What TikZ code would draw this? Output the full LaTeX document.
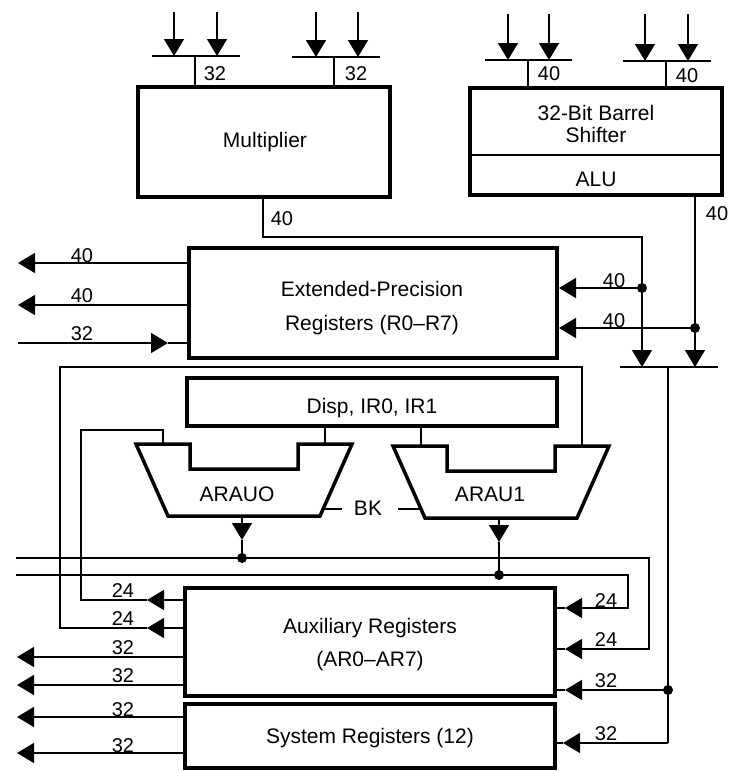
\documentclass[tikz,border=0pt]{standalone}
\usepackage{fontspec}
\setmainfont{Liberation Sans}
\usetikzlibrary{arrows.meta}
\begin{document}
\begin{tikzpicture}[x=1pt,y=-1pt,
  wire/.style={line width=1.4pt},
  box/.style={draw, line width=4pt, inner sep=0pt},
  arr/.style={wire, -{Triangle[length=17pt,width=20pt]}},
  lbl/.style={inner sep=0pt, anchor=base, font=\fontsize{20}{24}\selectfont},
  txt/.style={inner sep=0pt, anchor=base, font=\fontsize{21}{25}\selectfont},
  jdot/.style={circle, fill, inner sep=0pt, minimum size=10pt},
  alushape/.style={draw, line width=3.5pt, line join=miter},
]
\useasboundingbox (0,0) rectangle (732,771);

% ---------------- boxes
\node[box, minimum width=252pt, minimum height=110pt] (mult) at (264,142) {};
\node[txt] (multT) at (265,147.5) {Multiplier};

\node[box, minimum width=252pt, minimum height=107pt] (shf) at (596,141.5) {};
\coordinate (divL) at (470,155); \coordinate (divR) at (722,155);
\draw[line width=2pt] (divL) -- (divR);
\node[txt] (shfT1) at (596,120.5) {32-Bit Barrel};
\node[txt] (shfT2) at (596,142.5) {Shifter};
\node[txt] (aluT) at (596,186) {ALU};

\node[box, minimum width=368pt, minimum height=110pt] (ext) at (373,303) {};
\node[txt] (extT1) at (372,296.5) {Extended-Precision};
\node[txt] (extT2) at (372,330.5) {Registers (R0--R7)};

\node[box, minimum width=370pt, minimum height=48pt] (disp) at (372,402) {};
\node[txt] (dispT) at (372,413) {Disp, IR0, IR1};

\node[box, minimum width=370pt, minimum height=108pt] (aux) at (370,642) {};
\node[txt] (auxT1) at (370,633) {Auxiliary Registers};
\node[txt] (auxT2) at (370,666) {(AR0--AR7)};

\node[box, minimum width=370pt, minimum height=64pt] (sys) at (370,736) {};
\node[txt] (sysT) at (370,743) {System Registers (12)};

% ---------------- ARAU units
\draw[alushape] (136,444) -- (190,444) -- (190,469) -- (298,469) -- (298,444)
  -- (352,444) -- (320,516) -- (168,516) -- cycle;
\node[txt] (arau0) at (237,501) {ARAUO};
\draw[alushape] (393,446) -- (447,446) -- (447,471) -- (555,471) -- (555,446)
  -- (609,446) -- (577,518) -- (425,518) -- cycle;
\node[txt] (arau1) at (490,501) {ARAU1};

\coordinate (a0tl) at (163,444); \coordinate (a0tr) at (325,444);
\coordinate (a0out) at (242,516); \coordinate (a0bk) at (323,509);
\coordinate (a1tl) at (421,446); \coordinate (a1tr) at (582,446);
\coordinate (a1out) at (499,518); \coordinate (a1bk) at (421,509);

\draw[wire] (disp.south -| a0tr) -- (a0tr);
\draw[wire] (disp.south -| a1tl) -- (a1tl);

% BK
\coordinate (bk0) at (342,509); \coordinate (bk1) at (398,509);
\draw[wire] (a0bk) -- (bk0);
\draw[wire] (bk1) -- (a1bk);
\node[txt] (bk) at (368,515) {BK};

% ---------------- top input buses
% multiplier bus 1
\coordinate (mbL) at (152,56); \coordinate (mbR) at (240,56);
\coordinate (mbs1) at (174,12); \coordinate (mbs2) at (217,12);
\coordinate (mbt) at (195,56);
\draw[wire] (mbL) -- (mbR);
\draw[arr] (mbs1) -- (mbs1 |- mbL);
\draw[arr] (mbs2) -- (mbs2 |- mbL);
\draw[wire] (mbt) -- (mbt |- mult.north);
\node[lbl] (lm1) at (215,80) {32};
% multiplier bus 2
\coordinate (mcL) at (292,57); \coordinate (mcR) at (380,57);
\coordinate (mcs1) at (316,12); \coordinate (mcs2) at (358,12);
\coordinate (mct) at (334,57);
\draw[wire] (mcL) -- (mcR);
\draw[arr] (mcs1) -- (mcs1 |- mcL);
\draw[arr] (mcs2) -- (mcs2 |- mcL);
\draw[wire] (mct) -- (mct |- mult.north);
\node[lbl] (lm2) at (356,80) {32};
% shifter bus 1
\coordinate (sbL) at (485,60); \coordinate (sbR) at (572,60);
\coordinate (sbs1) at (508,14); \coordinate (sbs2) at (549,14);
\coordinate (sbt) at (528,60);
\draw[wire] (sbL) -- (sbR);
\draw[arr] (sbs1) -- (sbs1 |- sbL);
\draw[arr] (sbs2) -- (sbs2 |- sbL);
\draw[wire] (sbt) -- (sbt |- shf.north);
\node[lbl] (ls1) at (549,80) {40};
% shifter bus 2
\coordinate (scL) at (623,61); \coordinate (scR) at (711,61);
\coordinate (scs1) at (645,14); \coordinate (scs2) at (688,14);
\coordinate (sct) at (666,61);
\draw[wire] (scL) -- (scR);
\draw[arr] (scs1) -- (scs1 |- scL);
\draw[arr] (scs2) -- (scs2 |- scL);
\draw[wire] (sct) -- (sct |- shf.north);
\node[lbl] (ls2) at (687,82) {40};

% ---------------- multiplier / ALU outputs
\coordinate (mox) at (263,237); \coordinate (mj) at (642,237);
\coordinate (bbL) at (620,367); \coordinate (bbR) at (718,367);
\node[jdot] (d1) at (642,288) {};
\node[jdot] (d2) at (695,328) {};
\draw[arr] (mult.south -| mox) -- (mox) -- (mj) -- (mj |- bbL);
\node[lbl] (lmo) at (282,225) {40};
\draw[arr] (shf.south -| d2) -- (d2 |- bbL);
\node[lbl] (lao) at (717,220) {40};
\draw[wire] (bbL) -- (bbR);
\draw[arr] (d1.center) -- (ext.east |- d1);
\draw[arr] (d2.center) -- (ext.east |- d2);
\node[lbl] (le1) at (614,287) {40};
\node[lbl] (le2) at (614,327) {40};

% ---------------- ext left side
\coordinate (eo1) at (18,263); \coordinate (eo2) at (18,305);
\coordinate (ei) at (18,343); \coordinate (eitip) at (168,343);
\draw[arr] (ext.west |- eo1) -- (eo1);
\draw[arr] (ext.west |- eo2) -- (eo2);
\draw[arr] (ei) -- (eitip);
\draw[wire] (eitip) -- (ext.west |- eitip);
\node[lbl] (lx1) at (82,262) {40};
\node[lbl] (lx2) at (82,302) {40};
\node[lbl] (lx3) at (82,340) {32};

% ---------------- bus to aux / sys (right)
\coordinate (bt) at (668,367); \coordinate (sysc) at (668,743);
\coordinate (sysTip) at (563,743);
\node[jdot] (d3) at (668,690) {};
\coordinate (auxTip3) at (565,690);
\draw[wire] (bt) -- (sysc);
\draw[arr] (sysc) -- (sysTip);
\draw[wire] (sysTip) -- (sys.east |- sysTip);
\draw[arr] (d3.center) -- (auxTip3);
\draw[wire] (auxTip3) -- (aux.east |- auxTip3);
\node[lbl] (lr3) at (606,687) {32};
\node[lbl] (lr4) at (606,740) {32};

% ---------------- ARAU outputs and buses
\node[jdot] (dA0) at (242,558) {};
\node[jdot] (dA1) at (499,575) {};
\coordinate (a0tip) at (242,540); \coordinate (a1tip) at (499,542);
\draw[arr] (a0out) -- (a0tip);
\draw[wire] (a0tip) -- (dA0.center);
\draw[arr] (a1out) -- (a1tip);
\draw[wire] (a1tip) -- (dA1.center);

\coordinate (l1L) at (16,558); \coordinate (l1R) at (649,558);
\coordinate (l1D) at (649,649); \coordinate (auxTip2) at (565,649);
\draw[arr] (l1L) -- (l1R) -- (l1D) -- (auxTip2);
\draw[wire] (auxTip2) -- (aux.east |- auxTip2);
\coordinate (l2L) at (16,575); \coordinate (l2R) at (628,575);
\coordinate (l2D) at (628,608); \coordinate (auxTip1) at (565,608);
\draw[arr] (l2L) -- (l2R) -- (l2D) -- (auxTip1);
\draw[wire] (auxTip1) -- (aux.east |- auxTip1);
\node[lbl] (lr1) at (606,607) {24};
\node[lbl] (lr2) at (606,646) {24};

% ---------------- aux feedback loops (left)
\coordinate (lAtip) at (147,628); \coordinate (lA1) at (60,628);
\coordinate (lA2) at (60,367); \coordinate (lA3) at (582,367);
\draw[arr] (aux.west |- lAtip) -- (lAtip);
\draw[wire] (lAtip) -- (lA1) -- (lA2) -- (lA3) -- (a1tr);
\coordinate (lBtip) at (147,600); \coordinate (lB1) at (81,600);
\coordinate (lB2) at (81,430); \coordinate (lB3) at (163,430);
\draw[arr] (aux.west |- lBtip) -- (lBtip);
\draw[wire] (lBtip) -- (lB1) -- (lB2) -- (lB3) -- (a0tl);
\node[lbl] (ll1) at (123,597) {24};
\node[lbl] (ll2) at (123,625) {24};

% ---------------- aux / sys left outputs
\coordinate (lo1) at (17,657); \coordinate (lo2) at (17,685);
\coordinate (lo3) at (17,717); \coordinate (lo4) at (17,753);
\draw[arr] (aux.west |- lo1) -- (lo1);
\draw[arr] (aux.west |- lo2) -- (lo2);
\draw[arr] (sys.west |- lo3) -- (lo3);
\draw[arr] (sys.west |- lo4) -- (lo4);
\node[lbl] (ll3) at (123,654) {32};
\node[lbl] (ll4) at (123,682) {32};
\node[lbl] (ll5) at (123,716) {32};
\node[lbl] (ll6) at (123,752) {32};
\end{tikzpicture}
\end{document}
